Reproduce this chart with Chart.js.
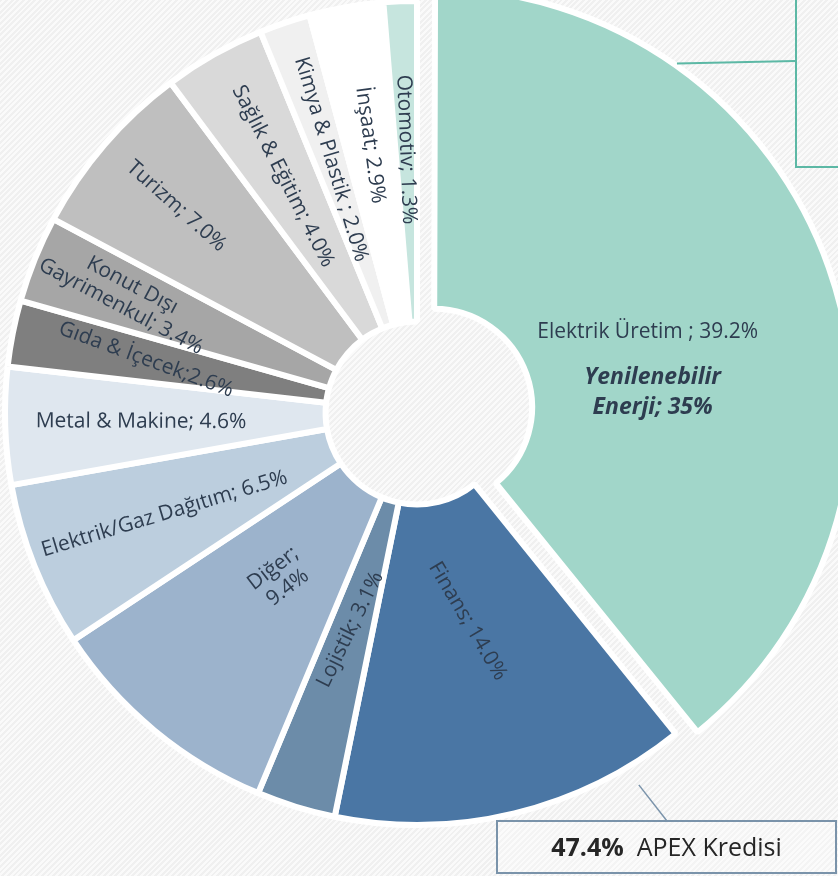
<!DOCTYPE html>
<html>
<head>
<meta charset="utf-8">
<script src="https://cdn.jsdelivr.net/npm/chart.js@4.4.0/dist/chart.umd.min.js"></script>
<style>
  html, body { margin: 0; padding: 0; overflow: hidden; }
  body {
    width: 838px; height: 876px;
    background: repeating-linear-gradient(135deg, #f0f0f0 0px, #f0f0f0 2px, #fafafa 2px, #fafafa 4px);
  }
  #wrap { position: absolute; left: 0; top: 0; width: 838px; height: 876px; }
</style>
</head>
<body>
<div id="wrap"><canvas id="pie" width="838" height="876"></canvas></div>
<script>
// sectors, clockwise from 12 o'clock
const categories = ['Elektrik Üretim', 'Finans', 'Lojistik', 'Diğer', 'Elektrik/Gaz Dağıtım',
  'Metal & Makine', 'Gıda & İçecek', 'Konut Dışı Gayrimenkul', 'Turizm', 'Sağlık & Eğitim',
  'Kimya & Plastik', 'İnşaat', 'Otomotiv'];
const shares = [39.2, 14.0, 3.1, 9.4, 6.5, 4.6, 2.6, 3.4, 7.0, 4.0, 2.0, 2.9, 1.3];
const sliceColors = ['#a1d6c9', '#4a76a4', '#6c8ca9', '#9cb3cc', '#bccede', '#dfe7ef',
  '#7f7f7f', '#a6a6a6', '#bfbfbf', '#d9d9d9', '#f0f0f0', '#ffffff', '#c6e5de'];
const renewableNote = ['Yenilenebilir', 'Enerji; 35%'];
const apexShare = '47.4%';
const apexName = 'APEX Kredisi';

// label placement: fraction of radius, extra rotation (deg), words on first line
const labelRadius = [0.55, 0.52, 0.55, 0.52, 0.66, 0.67, 0.67, 0.76, 0.77, 0.66, 0.65, 0.66, 0.64];
const labelTilt = [0, -17, 9, 13, 5, 2, 9, 6, 1, 2.5, 2, 2, 0];
const labelWrap = [0, 0, 0, 1, 0, 0, 0, 2, 0, 0, 0, 0, 0];

const TEXT = '#2e3d50';
const FONT = '"Open Sans", "Noto Sans", sans-serif';

function sliceText(i) {
  let sep = '; ';
  if (i === 0 || i === 10) sep = ' ; ';
  if (i === 6) sep = ';';
  const txt = categories[i] + sep + shares[i].toFixed(1) + '%';
  if (!labelWrap[i]) return [txt];
  const w = txt.split(' ');
  return [w.slice(0, labelWrap[i]).join(' '), w.slice(labelWrap[i]).join(' ')];
}

// how far chart.js pushes an offset arc out (same as ArcElement.draw)
function arcShift(arc) {
  const off = (arc.options.offset || 0) / 4;
  const circ = arc.endAngle - arc.startAngle;
  const fix = 1 - Math.sin(Math.min(Math.PI, circ));
  return { move: off, grow: off * fix };
}

const sliceLabels = {
  id: 'sliceLabels',
  afterDatasetsDraw(chart) {
    const ctx = chart.ctx;
    const arcs = chart.getDatasetMeta(0).data;
    ctx.save();
    ctx.fillStyle = TEXT;
    ctx.textAlign = 'center';
    ctx.textBaseline = 'middle';
    arcs.forEach((arc, i) => {
      const mid = (arc.startAngle + arc.endAngle) / 2;
      const s = arcShift(arc);
      const cx = arc.x + Math.cos(mid) * s.move;
      const cy = arc.y + Math.sin(mid) * s.move;
      const r = arc.outerRadius * labelRadius[i];
      const px = cx + Math.cos(mid) * r;
      const py = cy + Math.sin(mid) * r;
      const lines = sliceText(i);
      ctx.save();
      ctx.translate(px, py);
      if (i === 0) {
        ctx.font = '21px ' + FONT;
        ctx.fillText(lines[0], 0, 0);
        ctx.font = 'italic bold 23px ' + FONT;
        ctx.fillText(renewableNote[0], 5, 46);
        ctx.fillText(renewableNote[1], 5, 76);
      } else {
        let rot = mid;
        if (Math.cos(mid) < 0) rot += Math.PI;
        ctx.rotate(rot + labelTilt[i] * Math.PI / 180);
        ctx.font = '21px ' + FONT;
        const lh = 24;
        lines.forEach((ln, k) => ctx.fillText(ln, 0, (k - (lines.length - 1) / 2) * lh));
      }
      ctx.restore();
    });
    ctx.restore();
  }
};

const callouts = {
  id: 'callouts',
  afterDraw(chart) {
    const ctx = chart.ctx;
    const arcs = chart.getDatasetMeta(0).data;
    ctx.save();

    // renewable-energy callout (teal, runs off the top right)
    const a0 = arcs[0];
    const s0 = arcShift(a0);
    const mid0 = (a0.startAngle + a0.endAngle) / 2;
    const ang0 = a0.startAngle + (a0.endAngle - a0.startAngle) * 0.25;
    const r0 = a0.outerRadius + s0.grow + 2;
    const x0 = a0.x + Math.cos(mid0) * s0.move + Math.cos(ang0) * r0;
    const y0 = a0.y + Math.sin(mid0) * s0.move + Math.sin(ang0) * r0;
    ctx.strokeStyle = '#5cb8a5';
    ctx.lineWidth = 2;
    ctx.beginPath();
    ctx.moveTo(x0, y0);
    ctx.lineTo(795, 61);
    ctx.stroke();
    ctx.beginPath();
    ctx.moveTo(796, -5);
    ctx.lineTo(796, 167);
    ctx.lineTo(845, 167);
    ctx.stroke();

    // APEX callout under Finans
    const a1 = arcs[1];
    const ang1 = a1.startAngle + (a1.endAngle - a1.startAngle) * 0.16;
    const r1 = a1.outerRadius + 21;
    ctx.strokeStyle = '#7a93aa';
    ctx.lineWidth = 1.5;
    ctx.beginPath();
    ctx.moveTo(a1.x + Math.cos(ang1) * r1, a1.y + Math.sin(ang1) * r1);
    ctx.lineTo(667, 821);
    ctx.stroke();
    ctx.fillStyle = 'rgba(255,255,255,0.3)';
    ctx.fillRect(497, 821, 339, 52);
    ctx.lineWidth = 2;
    ctx.strokeRect(497, 821, 339, 52);

    ctx.fillStyle = '#262626';
    ctx.textBaseline = 'alphabetic';
    ctx.font = 'bold 25px ' + FONT;
    const wA = ctx.measureText(apexShare + '  ').width;
    ctx.font = '25px ' + FONT;
    const wB = ctx.measureText(apexName).width;
    const start = 497 + (339 - wA - wB) / 2;
    ctx.font = 'bold 25px ' + FONT;
    ctx.textAlign = 'left';
    ctx.fillText(apexShare, start, 856);
    ctx.font = '25px ' + FONT;
    ctx.fillText(apexName, start + wA, 856);
    ctx.restore();
  }
};

const ctx = document.getElementById('pie').getContext('2d');
new Chart(ctx, {
  type: 'doughnut',
  data: {
    labels: categories,
    datasets: [{
      data: shares,
      backgroundColor: sliceColors,
      borderColor: '#ffffff',
      borderWidth: 6,
      offset: shares.map((v, i) => i === 0 ? 72 : 0),
      hoverOffset: 0,
      clip: false
    }]
  },
  options: {
    responsive: false,
    animation: false,
    events: [],
    radius: 412,
    cutout: 83,
    layout: { padding: { left: 0, top: 0, right: 4, bottom: 50 } },
    plugins: {
      legend: { display: false },
      tooltip: { enabled: false }
    }
  },
  plugins: [sliceLabels, callouts]
});
</script>
</body>
</html>
